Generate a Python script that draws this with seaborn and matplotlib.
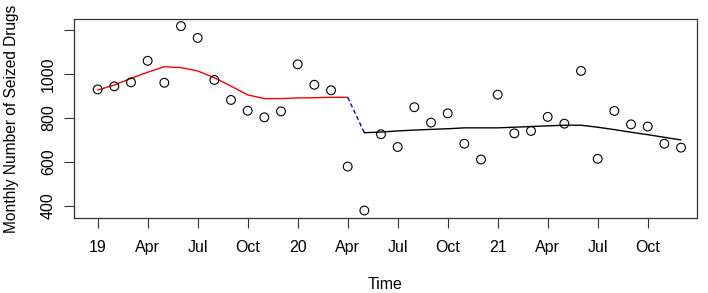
import numpy as np
import pandas as pd
import matplotlib
matplotlib.use("Agg")
import matplotlib.pyplot as plt
import seaborn as sns

# monthly observations, Jan 2019 .. Dec 2021
seized = [930, 944, 962, 1060, 960, 1218, 1164, 973, 882, 833, 803, 830,
          1044, 951, 926, 579, 379, 726, 668, 849, 779, 821, 683, 611,
          906, 730, 741, 805, 774, 1014, 614, 832, 771, 761, 683, 665]

# fitted trend before the break (Jan 2019 .. Apr 2020)
fit_pre = [927, 950, 980, 1008, 1033, 1029, 1014, 983, 945, 905, 888, 888,
           891, 892, 894, 894]
# fitted trend after the break (May 2020 .. Dec 2021)
fit_post = [733, 736, 741, 745, 748, 751, 755, 755, 755, 758, 761, 764,
            767, 767, 758, 747, 735, 724, 712, 700]

tick_labels = ["19", "Apr", "Jul", "Oct", "20", "Apr", "Jul", "Oct",
               "21", "Apr", "Jul", "Oct"]
y_ticks = [400, 600, 800, 1000, 1200]
y_tick_labels = ["400", "600", "800", "1000", ""]

month = np.arange(len(seized))
df = pd.DataFrame({"month": month, "seized": seized})
df_pre = pd.DataFrame({"month": month[:len(fit_pre)], "fit": fit_pre})
df_post = pd.DataFrame({"month": month[len(fit_pre):], "fit": fit_post})
df_gap = pd.DataFrame({"month": [len(fit_pre) - 1, len(fit_pre)],
                       "fit": [fit_pre[-1], fit_post[0]]})

sns.set_theme(style="white")
plt.rcParams["font.family"] = ["Liberation Sans", "DejaVu Sans"]
plt.rcParams["text.color"] = "black"
plt.rcParams["axes.labelcolor"] = "black"
plt.rcParams["xtick.color"] = "black"
plt.rcParams["ytick.color"] = "black"

fig = plt.figure(figsize=(7.08, 2.93), dpi=100)
ax = fig.add_axes([0.1045, 0.256, 0.88, 0.679])

sns.scatterplot(data=df, x="month", y="seized", ax=ax, marker="o",
                facecolor="none", edgecolor="black", linewidth=0.8, s=40,
                zorder=3)
sns.lineplot(data=df_pre, x="month", y="fit", ax=ax, color="red", lw=1)
sns.lineplot(data=df_gap, x="month", y="fit", ax=ax, color="blue", lw=1,
             linestyle=(0, (3, 2)))
sns.lineplot(data=df_post, x="month", y="fit", ax=ax, color="black", lw=1)

ax.set_xlim(-1.42, 35.96)
ax.set_ylim(345, 1250)
ax.set_xticks(np.arange(0, 36, 3))
ax.set_xticklabels(tick_labels, fontsize=11.5)
ax.set_yticks(y_ticks)
ax.set_yticklabels(y_tick_labels, fontsize=11.5, rotation=90, va="center")
ax.tick_params(axis="x", direction="out", length=7, width=0.8,
               color="#333333", pad=9, bottom=True)
ax.tick_params(axis="y", direction="out", length=7, width=0.8,
               color="#333333", pad=6, left=True)
ax.set_xlabel("Time", fontsize=11.5, labelpad=16)
ax.set_ylabel("Monthly Number of Seized Drugs", fontsize=11.2, labelpad=16)
ax.yaxis.label.set_y(0.5)

for sp in ax.spines.values():
    sp.set_visible(True)
    sp.set_color("#333333")
    sp.set_linewidth(0.9)

fig.savefig("out.png", dpi=100)
